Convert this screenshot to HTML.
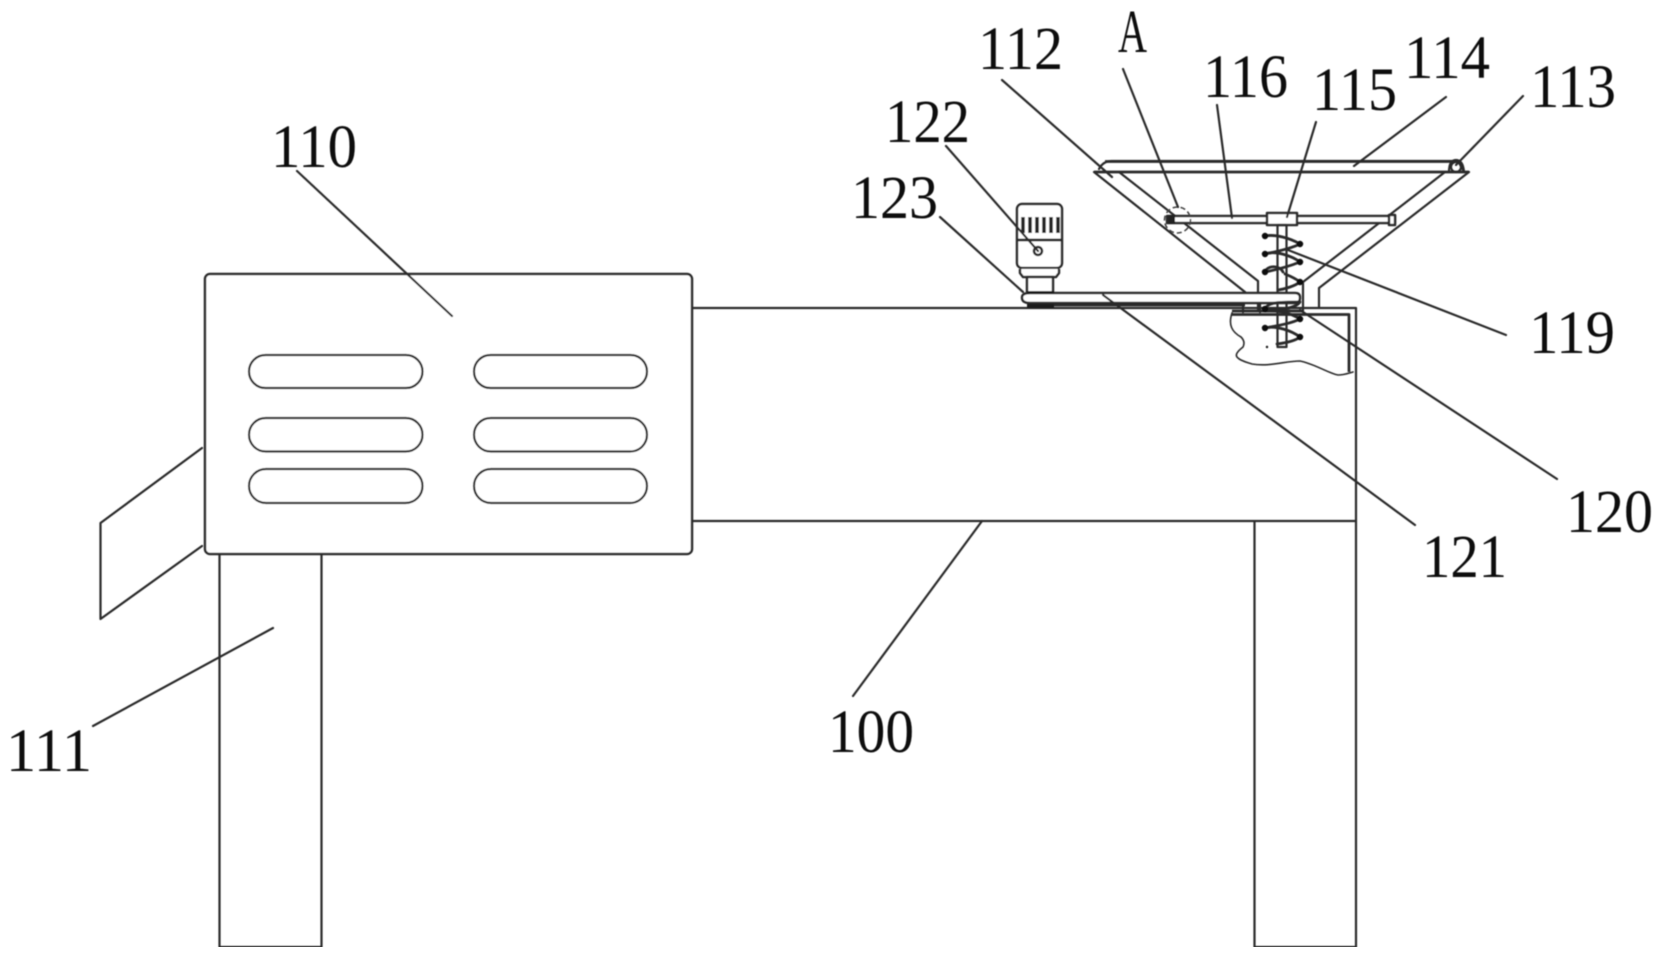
<!DOCTYPE html>
<html><head><meta charset="utf-8"><style>
html,body{margin:0;padding:0;background:#fff}
svg{display:block}
text{font-family:"Liberation Serif",serif;font-size:61px;fill:#111;stroke:none}
.l{fill:none;stroke:#2c2c2c;stroke-width:2.2;stroke-linejoin:round;stroke-linecap:round}
.t{fill:none;stroke:#2a2a2a;stroke-width:2.8;stroke-linejoin:round}
.b{fill:#fff;stroke:#2c2c2c;stroke-width:2.5;stroke-linejoin:round}
</style></head><body>
<svg width="1661" height="958" viewBox="0 0 1661 958" xmlns="http://www.w3.org/2000/svg">
<defs><filter id="s" x="0" y="0" width="100%" height="100%"><feGaussianBlur stdDeviation="0.45"/></filter></defs>
<g filter="url(#s)">
<!-- table -->
<path class="l" d="M692 308H1356V947H1254.500V521M692 521H1356"/>
<path class="l" d="M219.500 554V947H321.500V554"/>
<path class="t" d="M1232 314.500H1349V372"/>
<path class="l" style="stroke-width:1.6" d="M1232 313C1228 325 1232 332 1241 337C1245 341 1244 345 1243 347C1238 351 1234 355 1238 358C1241 361 1246 362 1252 364C1270 367 1285 361 1300 361C1315 364 1330 374 1338 375C1344 375 1349 373 1353 372"/>
<!-- cabinet -->
<path class="l" d="M202 448L100.500 523V619L202 546"/>
<rect class="b" x="205" y="274" width="487" height="280" rx="5"/>
<rect class="l" x="249" y="355" width="173.500" height="33" rx="16.500"/>
<rect class="l" x="249" y="418" width="173.500" height="33.500" rx="16.700"/>
<rect class="l" x="249" y="469" width="173.500" height="34" rx="17"/>
<rect class="l" x="474" y="355" width="173" height="33" rx="16.500"/>
<rect class="l" x="474" y="418" width="173" height="33.500" rx="16.700"/>
<rect class="l" x="474" y="469" width="173" height="34" rx="17"/>
<!-- hopper -->
<path class="t" d="M1094 172H1469"/>
<path class="l" d="M1099 169Q1103 161 1112 161H1458L1463 170"/>
<path class="t" d="M1105 161.500H1460"/>
<path class="l" d="M1094 172L1245 292"/>
<path class="l" d="M1119 172L1258 281V311"/>
<path class="l" d="M1445 172L1303 282V312"/>
<path class="l" d="M1469 172L1319 288V307"/>
<circle class="l" cx="1456" cy="167" r="5"/><path class="l" d="M1449 172Q1449 160 1456 160Q1463 160 1464 172"/>
<!-- rod -->
<rect class="b" x="1167" y="216" width="228" height="7"/>
<rect x="1168" y="215" width="7" height="9" fill="#222"/>
<rect class="b" x="1389" y="215" width="6" height="10"/>
<circle cx="1177.500" cy="220" r="13" fill="none" stroke="#444" stroke-width="1.6" stroke-dasharray="5 3"/>
<rect class="b" x="1267" y="213" width="30" height="12"/>
<!-- shaft -->
<rect class="l" x="1277.500" y="225" width="9" height="122"/>
<!-- motor -->
<rect class="b" x="1017" y="204" width="45" height="64" rx="5"/>
<path class="t" d="M1017 240H1062"/>
<path d="M1023 217v16M1030 217v16M1037 217v16M1044 217v16M1051 217v16M1058 217v16" stroke="#222" stroke-width="3.600" fill="none"/>
<circle cx="1038" cy="251" r="4" fill="#fff" stroke="#2c2c2c" stroke-width="2.600"/>
<path class="b" d="M1020 269V273L1023 277H1056L1059 273V269"/>
<rect class="b" x="1027" y="277" width="26" height="16"/>
<!-- arm -->
<path class="b" d="M1030 293H1295Q1300 293 1300 297.500Q1300 303 1295 303H1030Q1022 303 1022 297.500Q1022 293 1030 293Z"/>
<path d="M1027 291h27v3h-27zM1027 304h27v4h-27z" fill="#1c1c1c"/>
<path class="t" d="M1054 305H1245M1232 311H1303"/>
<path class="l" d="M1243 303V312M1260 303V312"/>
<!-- spring -->
<g class="l" style="stroke-width:2.800">
<path d="M1265 236C1275 234 1290 238 1300 244C1292 248 1275 252 1265 254"/>
<path d="M1265 254C1275 250 1292 256 1300 262C1290 266 1275 270 1265 272"/>
<path d="M1265 272C1267 265 1280 265 1283 272M1285 274C1290 276 1295 278 1300 282C1295 286 1285 289 1278 290"/>
<path d="M1265 309C1267 302 1280 302 1300 302C1295 309 1275 311 1265 309"/>
<path d="M1265 311C1280 310 1292 314 1300 319C1290 324 1275 326 1265 328"/>
<path d="M1265 328C1276 325 1292 331 1300 337C1295 341 1285 343 1277 344"/>
</g>
<g fill="#111"><circle cx="1265" cy="236" r="3.200"/><circle cx="1265" cy="254" r="3.200"/><circle cx="1265" cy="272" r="3.200"/><circle cx="1265" cy="309" r="3.200"/><circle cx="1265" cy="328" r="3.200"/><circle cx="1300" cy="244" r="3.200"/><circle cx="1300" cy="262" r="3.200"/><circle cx="1300" cy="282" r="3.200"/><circle cx="1300" cy="319" r="3.200"/><circle cx="1300" cy="337" r="3.200"/><circle cx="1267" cy="347" r="1.200"/></g>
<!-- leaders -->
<path class="l" d="M297 171L452 316M93 726L273 628M853 696L982 521M940 217L1023 292M946 146L1038 251M1002 80L1112 177M1123 69L1178 207M1217 105L1232 218M1316 122L1287 217M1446 97L1354 166M1523 96L1456 165M1506 335L1288 250M1557 479L1300 310M1415 525L1103 295"/>
<!-- labels -->
<text x="271" y="167" textLength="86" lengthAdjust="spacingAndGlyphs">110</text>
<text x="6" y="771" textLength="86" lengthAdjust="spacingAndGlyphs">111</text>
<text x="828" y="752" textLength="86" lengthAdjust="spacingAndGlyphs">100</text>
<text x="851" y="218" textLength="87" lengthAdjust="spacingAndGlyphs">123</text>
<text x="885" y="142" textLength="85" lengthAdjust="spacingAndGlyphs">122</text>
<text x="978" y="69" textLength="85" lengthAdjust="spacingAndGlyphs">112</text>
<text x="1118" y="52" textLength="29" lengthAdjust="spacingAndGlyphs">A</text>
<text x="1203" y="97" textLength="85" lengthAdjust="spacingAndGlyphs">116</text>
<text x="1312" y="110" textLength="85" lengthAdjust="spacingAndGlyphs">115</text>
<text x="1404" y="78" textLength="86" lengthAdjust="spacingAndGlyphs">114</text>
<text x="1530" y="107" textLength="86" lengthAdjust="spacingAndGlyphs">113</text>
<text x="1529" y="353" textLength="86" lengthAdjust="spacingAndGlyphs">119</text>
<text x="1566" y="532" textLength="87" lengthAdjust="spacingAndGlyphs">120</text>
<text x="1422" y="577" textLength="85" lengthAdjust="spacingAndGlyphs">121</text>
</g>
</svg>
</body></html>
